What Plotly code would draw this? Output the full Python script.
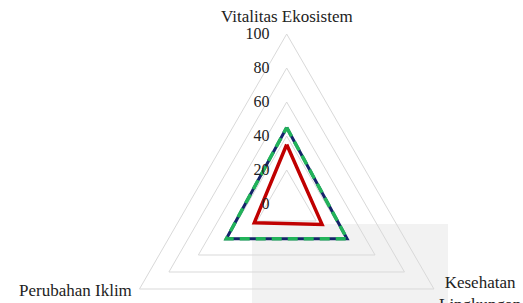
import plotly.graph_objects as go

categories = ["Vitalitas Ekosistem", "Kesehatan Lingkungan", "Perubahan Iklim"]
series_navy = [45, 41, 41]
series_green = [45, 41, 41]
series_red = [35, 24, 22]
radial_ticks = [0, 20, 40, 60, 80, 100]

FONT = "Liberation Serif"
W, H = 523, 400

def closed(v):
    return v + v[:1]

fig = go.Figure()
fig.add_trace(go.Scatterpolar(r=closed(series_navy), theta=closed(categories), mode="lines",
                              line=dict(color="#14246A", width=3), showlegend=False))
fig.add_trace(go.Scatterpolar(r=closed(series_green), theta=closed(categories), mode="lines",
                              line=dict(color="#22B35A", width=3.5, dash="10px,6px"), showlegend=False))
fig.add_trace(go.Scatterpolar(r=closed(series_red), theta=closed(categories), mode="lines",
                              line=dict(color="#C00000", width=3.5), showlegend=False))

def px(x):
    return x / W

def py(y):
    return (H - y) / H

label_font = dict(family=FONT, size=17, color="#222222")
annotations = [
    dict(text=categories[0], x=px(286.5), y=py(17), xanchor="center", yanchor="middle"),
    dict(text="Kesehatan<br>Lingkungan", x=px(480), y=py(271), xanchor="center", yanchor="top"),
    dict(text=categories[2], x=px(134), y=py(290), xanchor="right", yanchor="middle"),
]
for a in annotations:
    a.update(xref="paper", yref="paper", showarrow=False, font=label_font)

cx, cy, R = 286.7, 204, 170
fig.update_layout(
    width=W, height=H,
    margin=dict(l=0, r=0, t=0, b=0),
    paper_bgcolor="white",
    font=dict(family=FONT, size=16, color="#222222"),
    annotations=annotations,
    shapes=[dict(type="rect", xref="paper", yref="paper", x0=px(252), x1=px(448), y0=0, y1=py(224),
                 fillcolor="#F2F2F2", line=dict(width=0), layer="below")],
    polar=dict(
        domain=dict(x=[(cx-R)/W, (cx+R)/W], y=[(H-cy-R)/H, (H-cy+R)/H]),
        gridshape="linear",
        bgcolor="rgba(0,0,0,0)",
        angularaxis=dict(direction="clockwise", rotation=90, showgrid=False, showticklabels=False,
                         showline=True, linecolor="#D9D9D9", linewidth=1, ticks=""),
        radialaxis=dict(range=[0, 100], tickvals=radial_ticks, showline=False,
                        ticks="outside", ticklen=11, tickcolor="rgba(0,0,0,0)",
                        angle=90, tickangle=90, side="counterclockwise", gridcolor="#D9D9D9", gridwidth=1,
                        tickfont=dict(family=FONT, size=16, color="#222222")),
    ),
)
fig.write_html("out.html", config={"displayModeBar": False},
               post_script="document.body.style.margin='0';document.body.style.overflow='hidden';document.documentElement.style.overflow='hidden';")
